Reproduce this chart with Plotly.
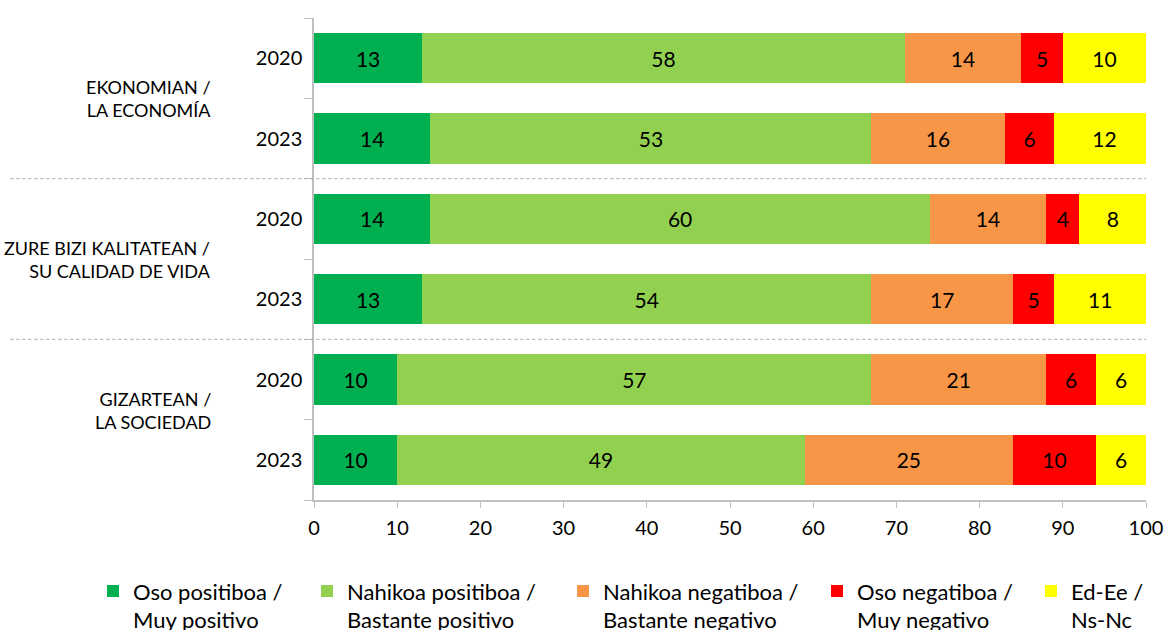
import plotly.graph_objects as go

groups = ["EKONOMIAN /<br>LA ECONOMÍA",
          "ZURE BIZI KALITATEAN /<br>SU CALIDAD DE VIDA",
          "GIZARTEAN /<br>LA SOCIEDAD"]
years = ["2020", "2023"]

series_names = ["Oso positiboa /<br>Muy positivo",
                "Nahikoa positiboa /<br>Bastante positivo",
                "Nahikoa negatiboa /<br>Bastante negativo",
                "Oso negatiboa /<br>Muy negativo",
                "Ed-Ee /<br>Ns-Nc"]
muy_positivo = [13, 14, 14, 13, 10, 10]
bastante_positivo = [58, 53, 60, 54, 57, 49]
bastante_negativo = [14, 16, 14, 17, 21, 25]
muy_negativo = [5, 6, 4, 5, 6, 10]
ns_nc = [10, 12, 8, 11, 6, 6]
colors = ["#00B050", "#92D050", "#F79646", "#FF0000", "#FFFF00"]

cats = [f"{g}|{y}" for g in groups for y in years]
tick_years = [y for g in groups for y in years]

W, H = 1164, 630
FONT = "Lato, 'Open Sans', sans-serif"

# layout: left pixel of each legend entry (one legend per series)
legend_left_px = [93, 307, 563, 817, 1031]
legend_keys = ["legend" if i == 0 else f"legend{i+1}" for i in range(len(series_names))]

fig = go.Figure()
for name, vals, col, lk in zip(series_names,
                               [muy_positivo, bastante_positivo, bastante_negativo, muy_negativo, ns_nc],
                               colors, legend_keys):
    fig.add_trace(go.Bar(
        y=cats, x=vals, name=name, orientation="h", legend=lk,
        marker=dict(color=col, line=dict(width=0)),
        text=[str(v) for v in vals], textposition="inside",
        insidetextanchor="middle", textangle=0, constraintext="none",
        textfont=dict(color="black", size=21, family=FONT),
        width=0.625,
    ))

legend_common = dict(orientation="h", xref="container", yref="container",
                     xanchor="left", y=0.095, yanchor="top",
                     font=dict(size=22, family=FONT, color="black"), valign="top",
                     itemclick=False, bgcolor="rgba(0,0,0,0)")
legends = {lk: dict(legend_common, x=px / W) for lk, px in zip(legend_keys, legend_left_px)}

fig.update_layout(
    barmode="stack",
    width=W, height=H,
    margin=dict(l=314, r=18, t=18, b=130, autoexpand=False),
    plot_bgcolor="white", paper_bgcolor="white",
    font=dict(family=FONT, color="black"),
    showlegend=True,
    **legends,
)
fig.update_yaxes(
    categoryorder="array", categoryarray=cats,
    tickmode="array", tickvals=cats, ticktext=tick_years,
    autorange="reversed", tickson="boundaries",
    ticks="outside", ticklen=8, tickcolor="#BFBFBF",
    showline=True, linecolor="#BFBFBF", linewidth=1.5,
    showgrid=False, tickfont=dict(size=20, family=FONT),
    ticklabelstandoff=6, automargin=False,
)
fig.update_xaxes(
    range=[0, 100], dtick=10, tick0=0,
    ticks="outside", ticklen=6, tickcolor="#BFBFBF",
    showline=True, linecolor="#BFBFBF", linewidth=1.5,
    showgrid=False, zeroline=False, tickfont=dict(size=20, family=FONT),
    ticklabelstandoff=3, automargin=False,
)

# group separators
for k in range(1, len(groups)):
    sep = k * len(years) - 0.5
    fig.add_shape(type="line", xref="paper", yref="y",
                  x0=-0.365, x1=1.0, y0=sep, y1=sep,
                  line=dict(color="#A6A6A6", width=1, dash="3px,3px"))

# group labels
label_yshift = [0, 0, 9]
for i, g in enumerate(groups):
    mid = i * len(years) + (len(years) - 1) / 2
    fig.add_annotation(xref="paper", yref="y", x=-0.121, y=mid, yshift=label_yshift[i],
                       text=g, showarrow=False, xanchor="right", align="right",
                       font=dict(size=18, family=FONT, color="black"))

fig.write_html("out.html", config={"displayModeBar": False},
               post_script="document.body.style.margin='0';document.body.style.overflow='hidden';")
